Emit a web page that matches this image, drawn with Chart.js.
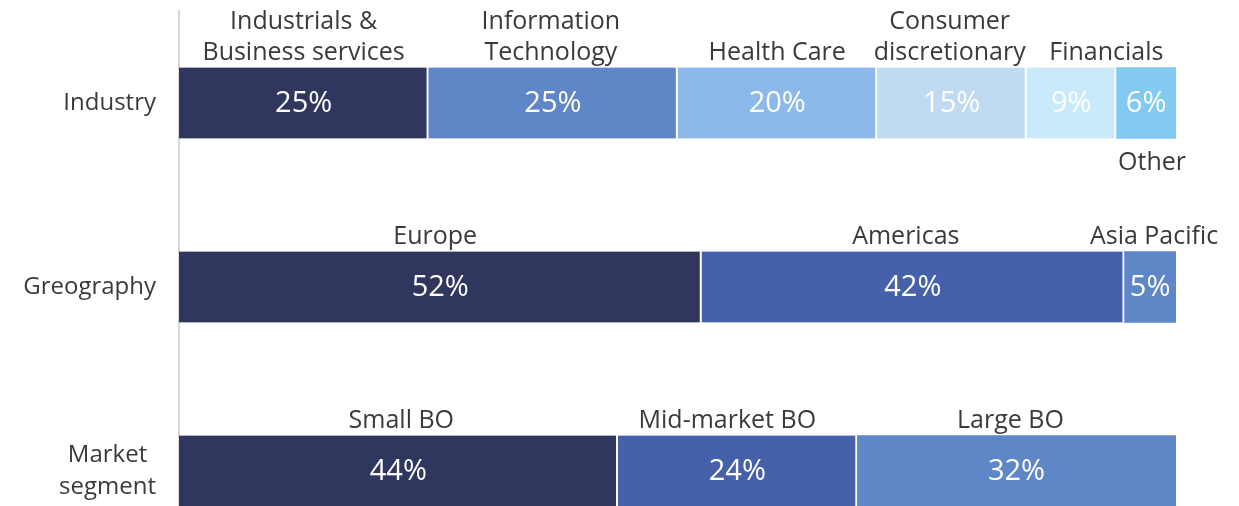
<!DOCTYPE html>
<html>
<head>
<meta charset="utf-8">
<script src="https://cdn.jsdelivr.net/npm/chart.js@4.4.1/dist/chart.umd.min.js"></script>
<style>
  html, body { margin: 0; padding: 0; background: #ffffff; overflow: hidden; width: 1239px; height: 506px; }
  #wrap { width: 1239px; height: 563px; }
</style>
</head>
<body>
<div id="wrap"><canvas id="c" width="1239" height="563"></canvas></div>
<script>
// ---- Data ----
const categories = ["Industry", "Greography", ["Market", "segment"]];
const industryNames = [["Industrials &", "Business services"], ["Information", "Technology"], "Health Care", ["Consumer", "discretionary"], "Financials", "Other"];
const industryValues = [25, 25, 20, 15, 9, 6];
const geographyNames = ["Europe", "Americas", "Asia Pacific"];
const geographyValues = [52.4, 42.4, 5.2];
const marketNames = ["Small BO", "Mid-market BO", "Large BO"];
const marketValues = [44, 24, 32];

// ---- Styles ----
const rowNames = [industryNames, geographyNames, marketNames];
const rowValues = [industryValues, geographyValues, marketValues];
const rowColors = [
  ["#2f375e", "#5f86c6", "#8cb9ea", "#c0daf2", "#c8eafa", "#82caf1"],
  ["#2f375e", "#4461aa", "#5f86c6"],
  ["#2f375e", "#4461aa", "#5f86c6"]
];
const belowLabels = { "0-5": true };
// horizontal nudges of name labels (px), as placed in the original
const labelShift = { "0-1": -2, "0-3": -2, "0-4": 35, "0-5": 6, "1-0": -5, "1-1": -7, "1-2": 4, "2-0": 3, "2-1": -10, "2-2": -6 };
const FONT = "'Open Sans', 'Liberation Sans', sans-serif";
const TEXT_COLOR = "#3a3a3a";

const maxSegs = Math.max(...rowValues.map(r => r.length));
const datasets = [];
for (let i = 0; i < maxSegs; i++) {
  datasets.push({
    data: rowValues.map(r => (i < r.length ? r[i] : null)),
    backgroundColor: rowColors.map(c => c[i] || "#ffffff"),
    borderColor: "#ffffff",
    borderSkipped: false,
    borderWidth: (ctx) => {
      const last = rowValues[ctx.dataIndex].length - 1 === ctx.datasetIndex;
      return { top: 0, bottom: 0, left: 0, right: last ? 0 : 2 };
    },
    barThickness: 71
  });
}

const labelPlugin = {
  id: "labels",
  afterDatasetsDraw(chart) {
    const ctx = chart.ctx;
    ctx.save();
    chart.data.datasets.forEach((ds, di) => {
      const meta = chart.getDatasetMeta(di);
      meta.data.forEach((bar, ri) => {
        const v = ds.data[ri];
        if (v === null || v === undefined) return;
        const props = bar.getProps(["x", "y", "base", "height"], true);
        const cx = (props.x + props.base) / 2;
        const top = props.y - props.height / 2;
        const bottom = props.y + props.height / 2;
        // value label
        ctx.fillStyle = "#ffffff";
        ctx.font = "29px " + FONT;
        ctx.textAlign = "center";
        ctx.textBaseline = "middle";
        ctx.fillText(Math.round(v) + "%", cx, props.y + 1);
        // name label
        const key = ri + "-" + di;
        const lx = cx + (labelShift[key] || 0);
        const name = rowNames[ri][di];
        const lines = Array.isArray(name) ? name : [name];
        ctx.fillStyle = TEXT_COLOR;
        ctx.font = "25px " + FONT;
        ctx.textBaseline = "alphabetic";
        if (belowLabels[key]) {
          lines.forEach((ln, k) => ctx.fillText(ln, lx, bottom + 31 + k * 31));
        } else {
          const n = lines.length;
          lines.forEach((ln, k) => ctx.fillText(ln, lx, top - 8 - (n - 1 - k) * 31));
        }
      });
    });
    // category labels
    const ys = chart.scales.y;
    ctx.fillStyle = TEXT_COLOR;
    ctx.font = "24px " + FONT;
    ctx.textBaseline = "middle";
    categories.forEach((cat, i) => {
      const y = ys.getPixelForValue(i);
      const lines = Array.isArray(cat) ? cat : [cat];
      if (lines.length === 1) {
        ctx.textAlign = "right";
        ctx.fillText(lines[0], 156, y);
      } else {
        const w = Math.max(...lines.map(l => ctx.measureText(l).width));
        ctx.textAlign = "center";
        const n = lines.length;
        lines.forEach((ln, k) => ctx.fillText(ln, 156 - w / 2, y + (k - (n - 1) / 2) * 32));
      }
    });
    ctx.restore();
  }
};

new Chart(document.getElementById("c"), {
  type: "bar",
  data: { labels: categories, datasets },
  options: {
    indexAxis: "y",
    responsive: false,
    animation: false,
    layout: { padding: { left: 0, right: 63, top: 11, bottom: 0 } },
    plugins: { legend: { display: false }, tooltip: { enabled: false } },
    scales: {
      x: { stacked: true, display: false, min: 0, max: 100 },
      y: {
        stacked: true,
        afterFit: (s) => { s.width = 179; },
        grid: { display: true, drawOnChartArea: false, drawTicks: false },
        border: { display: true, color: "#d9d9d9", width: 2 },
        ticks: { display: false }
      }
    }
  },
  plugins: [labelPlugin]
});
</script>
</body>
</html>
